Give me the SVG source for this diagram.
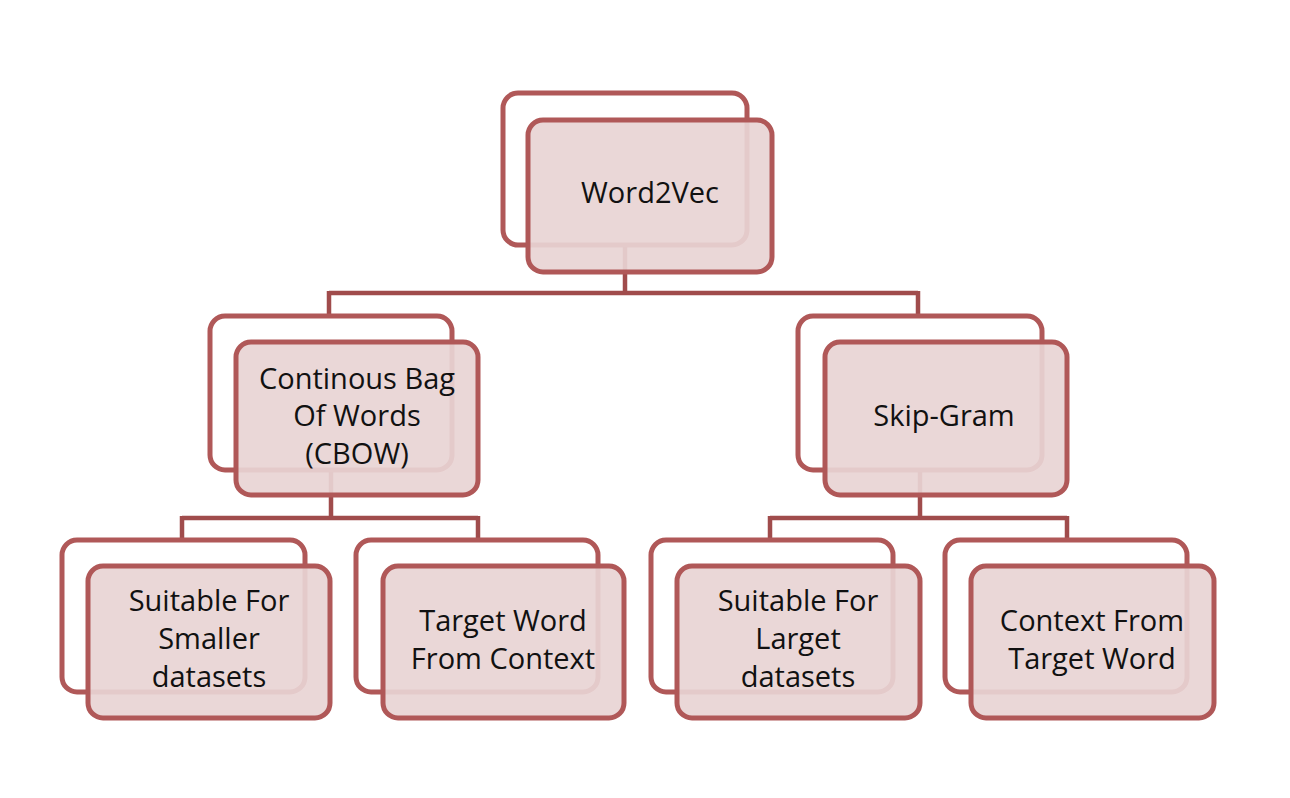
<svg xmlns="http://www.w3.org/2000/svg" width="1290" height="798" viewBox="0 0 1290 798">
<style>
.back{fill:none;stroke:#b05858;stroke-width:5}
.front{fill:rgb(232,212,212);fill-opacity:0.92;stroke:#b05858;stroke-width:5}
.conn{fill:none;stroke:#a04c4c;stroke-width:4.5}
text{font-family:"Open Sans",Lato,"Liberation Sans",sans-serif;font-size:29px;fill:#111111;text-anchor:middle;dominant-baseline:central}
</style>
<rect width="1290" height="798" fill="#ffffff"/>
<g id="connectors">
<path class="conn" d="M625 245 V293 M329 293 H918 M329 291 V318 M918 291 V318"/>
<path class="conn" d="M331 470 V518 M182 518 H478 M182 516 V542 M478 516 V542"/>
<path class="conn" d="M920 470 V518 M770 518 H1067 M770 516 V542 M1067 516 V542"/>
</g>
<g id="word2vec">
<rect class="back" x="503" y="93" width="244" height="152" rx="15"/>
<rect class="front" x="528" y="120" width="244" height="152" rx="15"/>
<text x="650" y="191">Word2Vec</text>
</g>
<g id="cbow">
<rect class="back" x="210" y="316" width="242" height="154" rx="15"/>
<rect class="front" x="236" y="342" width="242" height="153" rx="15"/>
<text x="357" y="377">Continous Bag</text>
<text x="357" y="414">Of Words</text>
<text x="357" y="452">(CBOW)</text>
</g>
<g id="skipgram">
<rect class="back" x="798" y="316" width="244" height="154" rx="15"/>
<rect class="front" x="825" y="342" width="242" height="153" rx="15"/>
<text x="944" y="414">Skip-Gram</text>
</g>
<g id="leaf-smaller">
<rect class="back" x="62" y="540" width="243" height="152" rx="15"/>
<rect class="front" x="88" y="566" width="242" height="152" rx="15"/>
<text x="209" y="599">Suitable For</text>
<text x="209" y="637">Smaller</text>
<text x="209" y="675">datasets</text>
</g>
<g id="leaf-target">
<rect class="back" x="356" y="540" width="242" height="152" rx="15"/>
<rect class="front" x="383" y="566" width="241" height="152" rx="15"/>
<text x="503" y="619">Target Word</text>
<text x="503" y="657">From Context</text>
</g>
<g id="leaf-larget">
<rect class="back" x="651" y="540" width="242" height="152" rx="15"/>
<rect class="front" x="677" y="566" width="243" height="152" rx="15"/>
<text x="798" y="599">Suitable For</text>
<text x="798" y="637">Larget</text>
<text x="798" y="675">datasets</text>
</g>
<g id="leaf-context">
<rect class="back" x="945" y="540" width="242" height="152" rx="15"/>
<rect class="front" x="971" y="566" width="243" height="152" rx="15"/>
<text x="1092" y="619">Context From</text>
<text x="1092" y="657">Target Word</text>
</g>
</svg>
